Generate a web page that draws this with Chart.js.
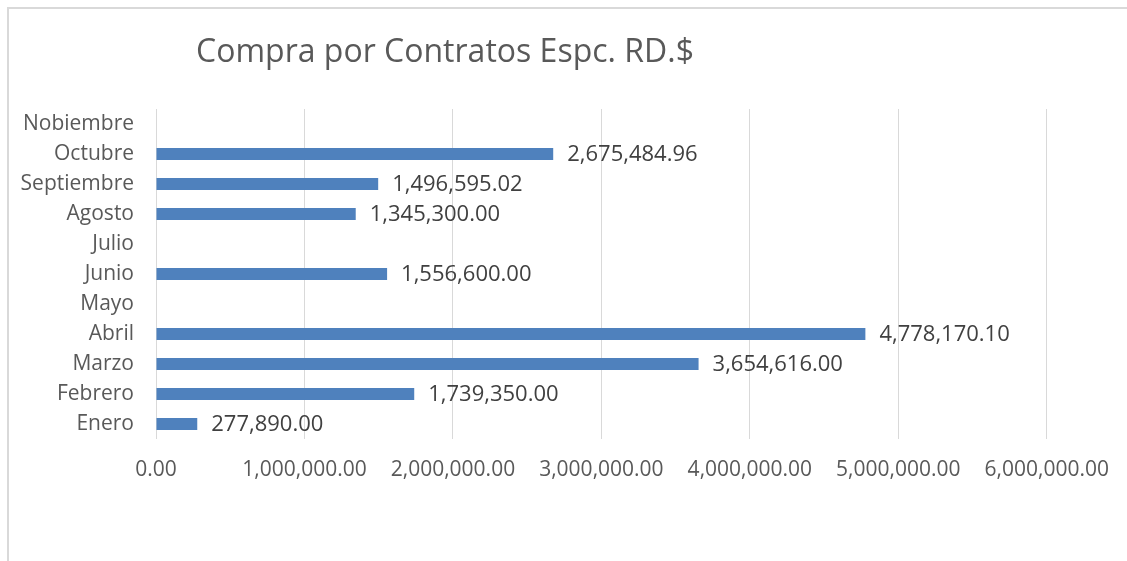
<!DOCTYPE html>
<html>
<head>
<meta charset="utf-8">
<script src="https://cdn.jsdelivr.net/npm/chart.js@4.4.1/dist/chart.umd.min.js"></script>
<style>
  body { margin: 0; background: #fff; }
  #wrap { position: relative; width: 1127px; height: 561px; }
  #frame { position: absolute; left: 7px; top: 7px; right: 0; bottom: 0; border-top: 2px solid #d9d9d9; border-left: 2px solid #d9d9d9; }
  canvas { position: absolute; left: 0; top: 0; }
</style>
</head>
<body>
<div id="wrap">
  <div id="frame"></div>
  <canvas id="BarChart" width="1127" height="561"></canvas>
</div>
<script>
const months = ['Enero', 'Febrero', 'Marzo', 'Abril', 'Mayo', 'Junio', 'Julio', 'Agosto', 'Septiembre', 'Octubre', 'Nobiembre'];
const compras = [277890.00, 1739350.00, 3654616.00, 4778170.10, null, 1556600.00, null, 1345300.00, 1496595.02, 2675484.96, null];
const xTicks = [0, 1000000, 2000000, 3000000, 4000000, 5000000, 6000000];
const chartTitle = 'Compra por Contratos Espc. RD.$';

const fmt = v => v.toLocaleString('en-US', { minimumFractionDigits: 2, maximumFractionDigits: 2 });

Chart.defaults.font.family = "'Open Sans', sans-serif";
Chart.defaults.color = '#595959';

// title sits left of center in the original, draw it by hand
const titlePlugin = {
    id: 'titleText',
    afterDraw(chart) {
        const c = chart.ctx;
        c.save();
        c.font = "32px 'Open Sans', sans-serif";
        c.fillStyle = '#595959';
        c.textAlign = 'center';
        c.textBaseline = 'middle';
        c.fillText(chartTitle, 445, 53);
        c.restore();
    }
};

const valueLabels = {
    id: 'valueLabels',
    afterDatasetsDraw(chart) {
        const c = chart.ctx;
        c.save();
        c.font = "22px 'Open Sans', sans-serif";
        c.fillStyle = '#404040';
        c.textBaseline = 'middle';
        chart.getDatasetMeta(0).data.forEach((bar, i) => {
            const v = compras[i];
            if (v == null) return;
            c.fillText(fmt(v), bar.x + 14, bar.y + 1);
        });
        c.restore();
    }
};

const ctx = document.getElementById('BarChart').getContext('2d');
new Chart(ctx, {
    type: 'bar',
    data: {
        labels: months,
        datasets: [{
            label: chartTitle,
            data: compras,
            backgroundColor: '#4F81BD',
            barPercentage: 0.4,
            categoryPercentage: 1
        }]
    },
    options: {
        indexAxis: 'y',
        responsive: false,
        animation: false,
        layout: { padding: { left: 0, top: 109, right: 80, bottom: 62 } },
        plugins: {
            legend: { display: false },
            tooltip: { enabled: false }
        },
        scales: {
            x: {
                min: 0,
                max: 6000000,
                afterBuildTicks: s => { s.ticks = xTicks.map(v => ({ value: v })); },
                afterFit: s => { s.height = 60; },
                ticks: {
                    font: { size: 21 },
                    color: '#595959',
                    padding: 18,
                    callback: v => fmt(v)
                },
                grid: { color: '#d9d9d9', lineWidth: 1, drawTicks: false },
                border: { display: false }
            },
            y: {
                reverse: true,
                afterFit: s => { s.width = 156; },
                ticks: { font: { size: 21 }, color: '#595959', padding: 22 },
                grid: { display: false, drawTicks: false },
                border: { display: false }
            }
        }
    },
    plugins: [titlePlugin, valueLabels]
});
</script>
</body>
</html>
